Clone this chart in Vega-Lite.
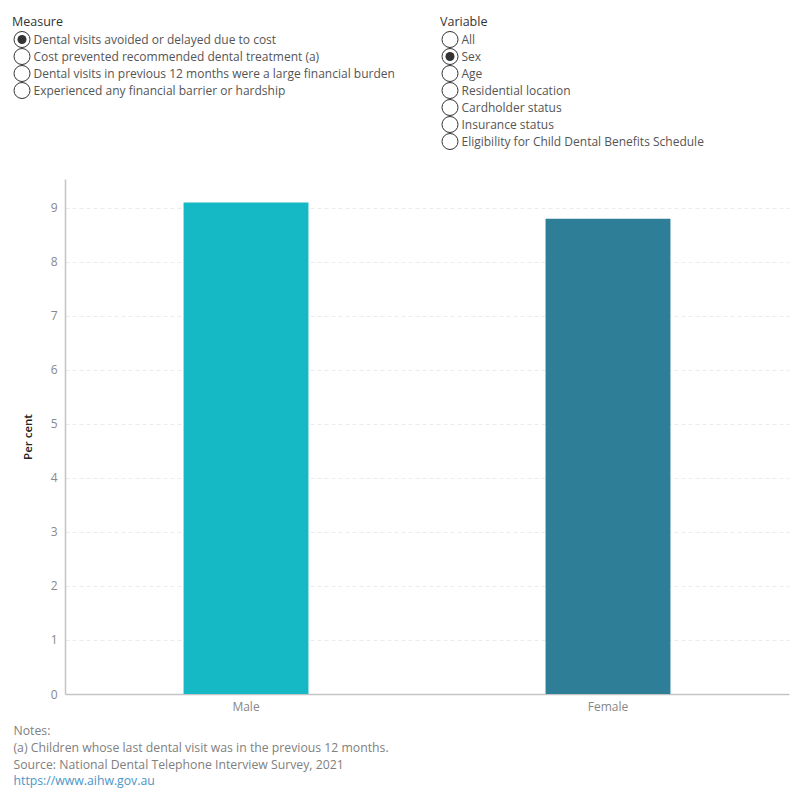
{
  "$schema": "https://vega.github.io/schema/vega-lite/v6.json",
  "padding": {"left": 12, "top": 16, "right": 5, "bottom": 5},
  "background": "white",
  "config": {
    "font": "Open Sans",
    "view": {"stroke": null},
    "title": {"font": "Open Sans", "fontSize": 12.5, "fontWeight": "normal", "color": "#333333", "anchor": "start", "offset": 1}
  },
  "spacing": 10,
  "vconcat": [
    {
      "spacing": 26,
      "vconcat": [
        {
          "spacing": 45,
          "hconcat": [
            {
              "title": "Measure",
              "width": 16,
              "height": {"step": 17},
              "data": {"values": [
                {"option": "Dental visits avoided or delayed due to cost", "selected": true},
                {"option": "Cost prevented recommended dental treatment (a)", "selected": false},
                {"option": "Dental visits in previous 12 months were a large financial burden", "selected": false},
                {"option": "Experienced any financial barrier or hardship", "selected": false}
              ]},
              "encoding": {
                "y": {"field": "option", "type": "nominal", "sort": null,
                  "axis": {"orient": "right", "title": null, "domain": false, "ticks": false, "tickSize": 0, "labelPadding": 3, "labelLimit": 0, "labelFont": "Open Sans", "labelFontSize": 12, "labelColor": "#555555"}}
              },
              "layer": [
                {"mark": {"type": "point", "shape": "circle", "size": 256, "filled": true, "fill": "white", "stroke": "#333333", "strokeWidth": 1, "opacity": 1}},
                {"transform": [{"filter": "datum.selected"}], "mark": {"type": "point", "shape": "circle", "size": 81, "filled": true, "color": "#333333", "opacity": 1}}
              ]
            },
            {
              "title": "Variable",
              "width": 16,
              "height": {"step": 17},
              "data": {"values": [
                {"option": "All", "selected": false},
                {"option": "Sex", "selected": true},
                {"option": "Age", "selected": false},
                {"option": "Residential location", "selected": false},
                {"option": "Cardholder status", "selected": false},
                {"option": "Insurance status", "selected": false},
                {"option": "Eligibility for Child Dental Benefits Schedule", "selected": false}
              ]},
              "encoding": {
                "y": {"field": "option", "type": "nominal", "sort": null,
                  "axis": {"orient": "right", "title": null, "domain": false, "ticks": false, "tickSize": 0, "labelPadding": 3, "labelLimit": 0, "labelFont": "Open Sans", "labelFontSize": 12, "labelColor": "#555555"}}
              },
              "layer": [
                {"mark": {"type": "point", "shape": "circle", "size": 256, "filled": true, "fill": "white", "stroke": "#333333", "strokeWidth": 1, "opacity": 1}},
                {"transform": [{"filter": "datum.selected"}], "mark": {"type": "point", "shape": "circle", "size": 81, "filled": true, "color": "#333333", "opacity": 1}}
              ]
            }
          ]
        },
        {
          "spacing": 0,
          "hconcat": [
            {
              "width": 8,
              "height": 10,
              "data": {"values": [{"t": ""}]},
              "mark": {"type": "text"},
              "encoding": {"text": {"field": "t"}}
            },
            {
              "width": 724,
              "height": 515,
              "data": {"values": [
                {"sex": "Male", "per_cent": 9.1},
                {"sex": "Female", "per_cent": 8.8}
              ]},
              "mark": {"type": "bar"},
              "encoding": {
                "x": {"field": "sex", "type": "nominal", "sort": ["Male", "Female"],
                  "scale": {"paddingInner": 0.655, "paddingOuter": 0.3275},
                  "axis": {"title": null, "labelAngle": 0, "ticks": false, "tickSize": 0, "labelPadding": 7, "labelFont": "Open Sans", "labelFontSize": 12, "labelColor": "#888888", "domainColor": "#c4c4c4", "domainWidth": 1.5, "grid": false}},
                "y": {"field": "per_cent", "type": "quantitative",
                  "scale": {"domain": [0, 9.537], "nice": false},
                  "axis": {"title": "Per cent", "values": [0, 1, 2, 3, 4, 5, 6, 7, 8, 9], "ticks": false, "tickSize": 0, "labelPadding": 8, "labelFont": "Open Sans", "labelFontSize": 12, "labelColor": "#888888", "domainColor": "#c4c4c4", "domainWidth": 1.5, "grid": true, "gridColor": "#ececec", "gridDash": [4, 3], "gridWidth": 1, "titleFont": "Open Sans", "titleFontSize": 11.5, "titleFontWeight": 600, "titleColor": "#222222", "titlePadding": 17}},
                "color": {"field": "sex", "type": "nominal",
                  "scale": {"domain": ["Male", "Female"], "range": ["#15B8C5", "#2D7E96"]},
                  "legend": null}
              }
            }
          ]
        }
      ]
    },
    {
      "width": 1,
      "height": {"step": 16.8},
      "data": {"values": [
        {"line": "Notes:"},
        {"line": "(a) Children whose last dental visit was in the previous 12 months."},
        {"line": "Source: National Dental Telephone Interview Survey, 2021"},
        {"line": "https://www.aihw.gov.au"}
      ]},
      "mark": {"type": "text"},
      "encoding": {
        "y": {"field": "line", "type": "nominal", "sort": null,
          "axis": {"orient": "right", "title": null, "domain": false, "ticks": false, "tickSize": 0, "labelPadding": -2, "labelLimit": 0, "labelFont": "Open Sans", "labelFontSize": 12.25,
            "labelColor": {"condition": {"test": "datum.value === 'https://www.aihw.gov.au'", "value": "#4996C8"}, "value": "#808080"}}},
        "text": {"value": ""}
      }
    }
  ]
}
